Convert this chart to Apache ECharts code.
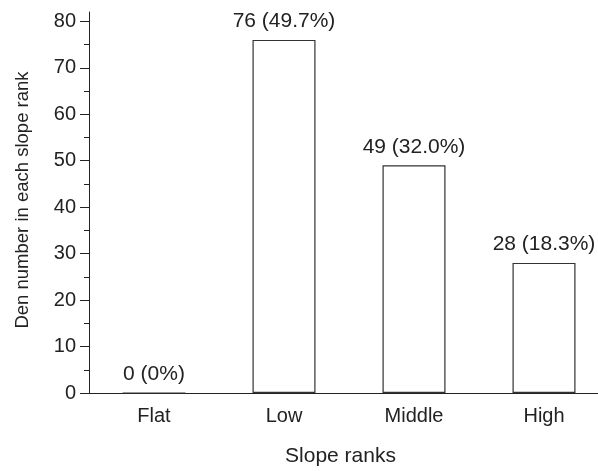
<!DOCTYPE html>
<html><head><meta charset="utf-8">
<script src="https://cdn.jsdelivr.net/npm/echarts@6/dist/echarts.min.js"></script>
<style>html,body{margin:0;padding:0;background:#fff}#c{width:598px;height:471px}</style>
</head><body><div id="c"></div>
<script>
const categories = ['Flat', 'Low', 'Middle', 'High'];
const counts = [0, 76, 49, 28];
const percents = ['0%', '49.7%', '32.0%', '18.3%'];
const yMajorTicks = [0, 10, 20, 30, 40, 50, 60, 70, 80];
const yMinorTicks = [5, 15, 25, 35, 45, 55, 65, 75];

const font = 'Liberation Sans, Arial, Helvetica, sans-serif';
const ink = '#222';
const chart = echarts.init(document.getElementById('c'), null, {renderer: 'canvas'});
chart.setOption({
  animation: false,
  backgroundColor: '#fff',
  grid: {left: 89, top: 12, width: 520, bottom: 78, containLabel: false, outerBoundsMode: 'none'},
  xAxis: [{
    type: 'category', data: categories, position: 'bottom',
    name: 'Slope ranks', nameLocation: 'middle', nameGap: 53,
    nameTextStyle: {fontFamily: font, fontSize: 21, color: ink, padding: [0, 17, 0, 0]},
    axisLine: {lineStyle: {color: ink, width: 1}},
    axisTick: {alignWithLabel: true, length: 9, lineStyle: {color: ink}},
    axisLabel: {fontFamily: font, fontSize: 20, color: ink, margin: 13}
  }, {
    type: 'category', data: categories, position: 'bottom', offset: 0,
    axisLine: {show: false},
    axisTick: {length: 5, lineStyle: {color: ink}},
    axisLabel: {show: false}
  }],
  yAxis: [{
    type: 'value', min: 0, max: 82,
    name: 'Den number in each slope rank', nameLocation: 'middle', nameGap: 57,
    nameTextStyle: {fontFamily: font, fontSize: 18.5, color: ink, padding: [0, 0, 0, 5]},
    axisLine: {show: true, lineStyle: {color: ink, width: 1}},
    axisTick: {show: true, length: 9, customValues: yMajorTicks, lineStyle: {color: ink}},
    axisLabel: {fontFamily: font, fontSize: 20, color: ink, margin: 13, customValues: yMajorTicks},
    splitLine: {show: false}
  }, {
    type: 'value', min: 0, max: 82, position: 'left', offset: 0,
    axisLine: {show: false},
    axisTick: {show: true, length: 5, customValues: yMinorTicks, lineStyle: {color: ink}},
    axisLabel: {show: false},
    splitLine: {show: false}
  }],
  series: [{
    type: 'bar', xAxisIndex: 0, yAxisIndex: 0,
    data: counts, barWidth: 63,
    itemStyle: {color: '#fff', borderColor: '#333', borderWidth: 1.2},
    label: {
      show: true, position: 'top', distance: 8,
      fontFamily: font, fontSize: 21, color: ink,
      formatter: p => counts[p.dataIndex] + ' (' + percents[p.dataIndex] + ')'
    }
  }]
});
</script></body></html>
